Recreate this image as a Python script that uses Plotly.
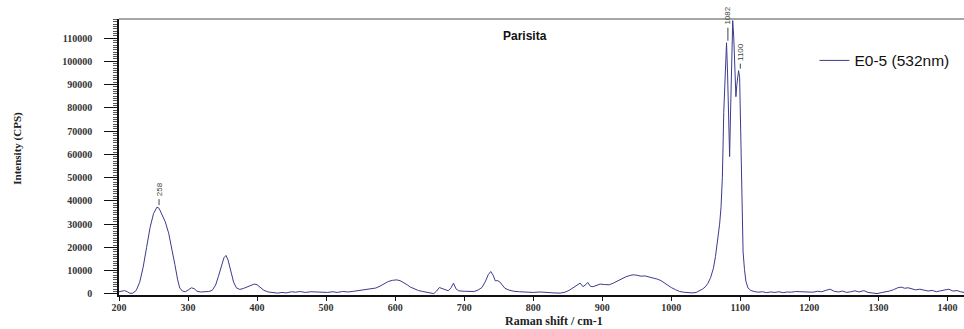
import plotly.graph_objects as go

# Raman spectrum of parisite sample E0-5, excitation 532 nm
shift = [
    200, 204, 208, 212, 216, 220, 225, 230, 235, 240, 245, 250, 255, 258, 262, 267, 272, 277, 281, 285,
    288, 292, 296, 300, 305, 309, 313, 318, 324, 330, 335, 340, 344, 348, 352, 355, 358, 362, 366, 370,
    375, 380, 386, 391, 396, 400, 405, 410, 416, 422, 430, 436, 442, 450, 456, 462, 470, 478, 486, 494,
    502, 510, 516, 524, 532, 540, 548, 556, 564, 572, 578, 584, 590, 596, 602, 607, 612, 617, 622, 628,
    634, 640, 646, 652, 656, 660, 664, 668, 672, 677, 681, 684.5, 688, 692, 700, 708, 714, 720, 726, 731,
    735, 738.5, 742, 745, 748, 751, 755, 759, 765, 772, 780, 790, 800, 810, 820, 830, 839, 846, 852, 858,
    863, 868, 872, 876, 879, 883, 887, 892, 897, 903, 910, 916, 922, 928, 934, 940, 945, 950, 956, 962,
    968, 974, 980, 985, 990, 995, 1000, 1006, 1012, 1018, 1024, 1030, 1036, 1041, 1045, 1049, 1053, 1057,
    1061, 1064, 1067, 1070, 1072, 1074, 1076, 1078, 1080, 1081.5, 1083, 1084.5, 1086, 1087.5, 1089,
    1090.5, 1092, 1093.6, 1095, 1097.5, 1099, 1100.5, 1102.5, 1104, 1106, 1108, 1111, 1115, 1120, 1126,
    1132, 1138, 1144, 1150, 1156, 1162, 1168, 1174, 1180, 1187, 1193, 1199, 1205, 1212, 1218, 1224, 1230,
    1236, 1242, 1248, 1254, 1260, 1266, 1272, 1279, 1285, 1292, 1298, 1304, 1310, 1316, 1322, 1328, 1333,
    1338, 1343, 1348, 1354, 1360, 1366, 1372, 1378, 1384, 1390, 1396, 1402, 1408, 1414, 1419, 1424,
]
intensity = [
    900, 1200, 1400, 900, 200, 300, 1500, 5000, 11500, 20000, 28500, 34500, 37300, 36800, 34000, 31000, 26000, 19000, 12500, 6000,
    2500, 1200, 900, 1600, 2600, 2200, 1100, 800, 900, 1000, 1500, 3800, 7500, 12000, 15500, 16500, 14500, 9800, 5000, 2600,
    1900, 2300, 3000, 3700, 4200, 3900, 2700, 1500, 800, 500, 300, 600, 400, 900, 700, 1000, 600, 900, 700, 800,
    600, 900, 600, 1000, 800, 1100, 1400, 1600, 2000, 2500, 3300, 4400, 5300, 5800, 6000, 5700, 4900, 4000, 2900, 2000,
    1400, 1000, 700, 300, 100, 1200, 2700, 2300, 1800, 1300, 2600, 4600, 2200, 1300, 1100, 900, 1000, 1600, 2800, 5500,
    8300, 9600, 8000, 5600, 5700, 5300, 3600, 2400, 1600, 1100, 900, 700, 600, 800, 500, 400, 300, 700, 1500, 2700,
    3700, 4600, 3100, 3900, 4900, 3200, 3100, 3700, 4200, 4000, 3900, 4600, 5500, 6500, 7300, 7900, 8200, 8000, 7600, 7700,
    7200, 7000, 6300, 5700, 4600, 3500, 2700, 1800, 1000, 700, 500, 400, 600, 1200, 2000, 2900, 4500, 7000,
    11000, 16000, 22000, 30000, 37000, 50000, 78000, 98000, 108000, 95000, 70000, 59000, 80000, 105000, 117500,
    110000, 95000, 84800, 90000, 96000, 93000, 70000, 34000, 18000, 10500, 5500, 2600, 1500, 1000, 700,
    900, 500, 800, 600, 900, 500, 800, 700, 1000, 900, 600, 800, 700, 1100, 900, 1500, 2000,
    1100, 800, 1200, 600, 900, 1300, 800, 1400, 600, 200, 100, 500, 800, 1200, 1800, 2600, 2900,
    2400, 2600, 2300, 1700, 2000, 1500, 1200, 1500, 900, 1300, 1700, 2000, 1200, 1400, 900, 600,
]

# Labelled band positions and the intensity at each label
peak_shift = [258, 1082, 1100]
peak_height = [37300, 108000, 96000]
peak_text = ["258", "1082", "1100"]
stem_px = [6, 13, 5]

y_ticks = list(range(0, 110001, 10000))
x_ticks = list(range(200, 1401, 100))

LINE = "#3b3b8f"
TICKFONT = dict(family="Liberation Serif", size=10, color="#333333")

fig = go.Figure()
fig.add_trace(go.Scatter(
    x=shift, y=intensity, mode="lines", name="E0-5 (532nm)",
    line=dict(color=LINE, width=1),
))

for px, ph, pt, sp in zip(peak_shift, peak_height, peak_text, stem_px):
    fig.add_shape(
        type="line", xref="x", yref="y", ysizemode="pixel", yanchor=ph,
        x0=px, x1=px, y0=2, y1=2 + sp, line=dict(color="#444444", width=1),
    )
    fig.add_annotation(
        x=px, y=ph, xref="x", yref="y", text=pt, showarrow=False,
        textangle=-90, yanchor="bottom", xanchor="center", yshift=3 + sp,
        font=dict(family="Arial", size=8, color="#444444"),
    )

# Frame line along the top of the plotting area
fig.add_shape(type="line", xref="paper", yref="paper", x0=0, x1=1, y0=1, y1=1,
              line=dict(color="#888888", width=1.5))

fig.add_annotation(xref="paper", yref="paper", x=0.48, y=0.938, yanchor="middle",
                   text="<b>Parisita</b>", showarrow=False,
                   font=dict(family="Arial", size=12, color="#111111"))
fig.add_annotation(xref="paper", yref="paper", x=0.515, y=-0.095, yanchor="middle",
                   text="<b>Raman shift / cm-1</b>", showarrow=False,
                   font=dict(family="Liberation Serif", size=12, color="#222222"))
fig.add_annotation(xref="paper", yref="paper", x=-0.1195, y=0.53, xanchor="center",
                   yanchor="middle", textangle=-90,
                   text="<b>Intensity (CPS)</b>", showarrow=False,
                   font=dict(family="Liberation Serif", size=11, color="#222222"))

fig.update_layout(
    width=964, height=329,
    margin=dict(l=119, r=0, t=19, b=34),
    paper_bgcolor="white", plot_bgcolor="white",
    showlegend=True,
    legend=dict(x=0.823, y=0.91, xanchor="left", yanchor="top",
                bgcolor="rgba(0,0,0,0)", font=dict(family="Arial", size=15.5, color="#111111")),
    xaxis=dict(
        range=[200, 1424], tickvals=x_ticks, ticktext=[f"<b>{v}</b>" for v in x_ticks],
        showgrid=False, zeroline=False, showline=True, linecolor="#111111", linewidth=1.5,
        ticks="outside", ticklen=4, tickcolor="#111111", tickfont=TICKFONT,
        ticklabelstandoff=-2,
    ),
    yaxis=dict(
        range=[-500, 118200], tickvals=y_ticks, ticktext=[f"<b>{v}</b>" for v in y_ticks],
        showgrid=False, zeroline=False, showline=True, linecolor="#111111", linewidth=1.5,
        ticks="outside", ticklen=13, tickcolor="#111111", tickfont=TICKFONT,
        ticklabelstandoff=10,
        minor=dict(dtick=1000, ticks="outside", ticklen=4, tickcolor="#555555"),
    ),
)

fig.write_html("out.html")
